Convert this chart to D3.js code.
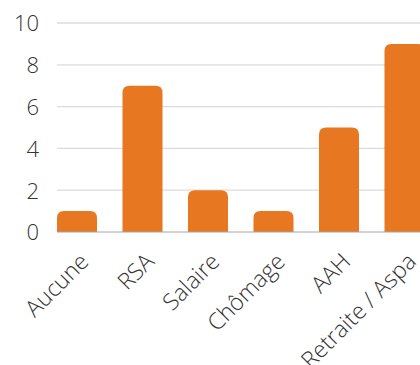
<!DOCTYPE html>
<html>
<head>
<meta charset="utf-8">
<script src="https://cdn.jsdelivr.net/npm/d3@7"></script>
<style>
  html, body { margin: 0; padding: 0; background: #fff; }
  svg { display: block; }
</style>
</head>
<body>
<svg id="chart" width="420" height="365"></svg>
<script>
const categories = ["Aucune", "RSA", "Salaire", "Chômage", "AAH", "Retraite / Aspa"];
const values = [1, 7, 2, 1, 5, 9];
const yTicks = [0, 2, 4, 6, 8, 10];

(function () {
  const svg = d3.select("#chart");
  const plotLeft = 57, plotTop = 23, plotBottom = 232;
  const barW = 40, step = 65.5;

  const x = d3.scaleBand()
    .domain(categories)
    .range([plotLeft, plotLeft + 5 * step + barW])
    .paddingInner((step - barW) / step)
    .paddingOuter(0)
    .align(0);

  const y = d3.scaleLinear().domain([0, 10]).range([plotBottom, plotTop]);

  const font = "'Open Sans', sans-serif";

  // horizontal gridlines
  svg.append("g")
    .selectAll("line")
    .data(yTicks.filter(d => d > 0))
    .join("line")
    .attr("x1", plotLeft).attr("x2", 420)
    .attr("y1", d => y(d)).attr("y2", d => y(d))
    .attr("stroke", "#dcdcdc").attr("stroke-width", 1.3);

  // y axis labels
  const yAxis = d3.axisLeft(y).tickValues(yTicks).tickSize(0).tickPadding(0);
  const gy = svg.append("g").attr("transform", "translate(39,0)").call(yAxis);
  gy.select(".domain").remove();
  gy.selectAll("text")
    .attr("font-family", font).attr("font-size", 22).attr("font-weight", 300)
    .attr("fill", "#333").attr("dy", "0.36em");

  // bars with rounded tops
  const r = 7;
  function barPath(d, i) {
    const x0 = x(categories[i]), w = x.bandwidth();
    const y0 = y(d), yb = y(0);
    const rr = Math.min(r, (yb - y0));
    return `M${x0},${yb} V${y0 + rr} Q${x0},${y0} ${x0 + rr},${y0} H${x0 + w - rr} Q${x0 + w},${y0} ${x0 + w},${y0 + rr} V${yb} Z`;
  }
  svg.append("g")
    .selectAll("path")
    .data(values)
    .join("path")
    .attr("d", barPath)
    .attr("fill", "#e87722");

  // baseline
  svg.append("line")
    .attr("x1", plotLeft).attr("x2", 420)
    .attr("y1", y(0)).attr("y2", y(0))
    .attr("stroke", "#a6a6a6").attr("stroke-width", 1);

  // category labels, rotated
  const xAxis = d3.axisBottom(x).tickSize(0).tickPadding(0);
  const gx = svg.append("g").attr("transform", `translate(0,${plotBottom})`).call(xAxis);
  gx.select(".domain").remove();
  gx.selectAll(".tick text")
    .attr("font-family", font).attr("font-size", 23).attr("font-weight", 300)
    .attr("fill", "#333")
    .attr("text-anchor", "end")
    .attr("dy", null).attr("y", null)
    .attr("transform", "translate(13,31) rotate(-45)");
})();
</script>
</body>
</html>
